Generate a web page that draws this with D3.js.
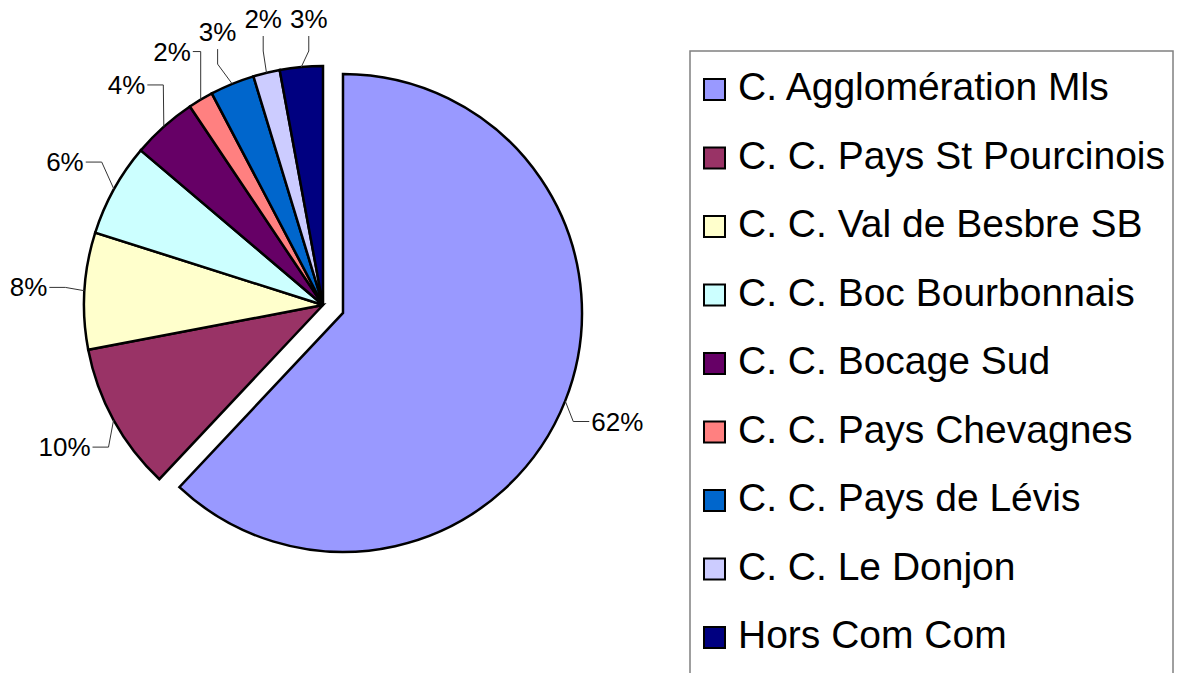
<!DOCTYPE html>
<html>
<head>
<meta charset="utf-8">
<script src="https://cdn.jsdelivr.net/npm/d3@7"></script>
<style>
  body { margin: 0; background: #fff; }
  text { font-family: "Liberation Sans", Arial, sans-serif; }
</style>
</head>
<body>
<div class="visHolder"></div>
<script>
const width = 1178;
const height = 673;

// share of each group, in percent, clockwise from 12 o'clock
const groups = [
    "C. Agglomération Mls",
    "C. C. Pays St Pourcinois",
    "C. C. Val de Besbre SB",
    "C. C. Boc Bourbonnais",
    "C. C. Bocage Sud",
    "C. C. Pays Chevagnes",
    "C. C. Pays de Lévis",
    "C. C. Le Donjon",
    "Hors Com Com"
];
const shares = [62.0, 10.0, 7.9, 6.3, 4.4, 1.7, 3.0, 1.8, 2.9];
const colors = [
    "#9999FF", "#993366", "#FFFFCC", "#CCFFFF", "#660066",
    "#FF8080", "#0066CC", "#CCCCFF", "#000080"
];

const cx = 323;
const cy = 305;
const radius = 239;
const explode = 21.5;
const labelRadius = 295;
const labelSize = 26;

let svg = d3
    .select(".visHolder")
    .append("svg")
    .attr("width", width)
    .attr("height", height);

svg.append("rect")
    .attr("width", width)
    .attr("height", height)
    .attr("fill", "#fff");

const total = d3.sum(shares);
const pie = d3.pie().sort(null).value((d) => d)(shares);
const arc = d3.arc().innerRadius(0).outerRadius(radius);

// only the first slice is pulled out
const offsetOf = (d, i) => {
    if (i !== 0) return [0, 0];
    const a = (d.startAngle + d.endAngle) / 2;
    return [Math.sin(a) * explode, -Math.cos(a) * explode];
};

const pieG = svg.append("g").attr("transform", `translate(${cx}, ${cy})`);

pieG.selectAll("path")
    .data(pie)
    .enter()
    .append("path")
    .attr("d", arc)
    .attr("transform", (d, i) => {
        const o = offsetOf(d, i);
        return `translate(${o[0]}, ${o[1]})`;
    })
    .attr("fill", (d, i) => colors[i])
    .attr("stroke", "#000")
    .attr("stroke-width", 2.5)
    .attr("stroke-linejoin", "miter");

// labels with leader lines
const labelG = svg.append("g").attr("transform", `translate(${cx}, ${cy})`);

const labels = pie.map((d, i) => {
    const a = (d.startAngle + d.endAngle) / 2;
    const o = offsetOf(d, i);
    return {
        txt: Math.round((d.value / total) * 100) + "%",
        x: o[0] + Math.sin(a) * labelRadius,
        y: o[1] - Math.cos(a) * labelRadius,
        ax: o[0] + Math.sin(a) * radius,
        ay: o[1] - Math.cos(a) * radius
    };
});

labels.forEach((l) => {
    l.node = labelG.append("text")
        .attr("text-anchor", "middle")
        .attr("dominant-baseline", "central")
        .attr("font-size", labelSize)
        .attr("fill", "#000")
        .text(l.txt);
    l.w = l.node.node().getComputedTextLength() / 2;
    // keep inside the top edge
    l.y = Math.max(l.y, -cy + labelSize / 2 + 6);
});

// spread the crowded labels across the top, in slice order
for (let i = 1; i < labels.length; i++) {
    const p = labels[i - 1];
    const l = labels[i];
    if (l.y < -200 && Math.abs(l.y - p.y) < 20 && l.x > p.x) {
        l.x = Math.max(l.x, p.x + p.w + l.w + 8);
    }
}

labels.forEach((l) => {
    l.node.attr("x", l.x).attr("y", l.y);
    let pts;
    if (l.y < 0 && Math.abs(l.x - l.ax) < l.w + 4 && Math.abs(l.x) < Math.abs(l.y) * 0.6) {
        // vertical elbow below the text
        const by = l.y + labelSize / 2 + 4;
        pts = [[l.x, by], [l.x, by + 15], [l.ax, l.ay]];
    } else {
        const side = l.ax < l.x ? -1 : 1;
        const sx = l.x + side * (l.w + 2);
        const ex = side < 0 ? Math.max(sx - 16, l.ax) : Math.min(sx + 16, l.ax);
        pts = [[sx, l.y], [ex, l.y], [l.ax, l.ay]];
    }
    labelG.append("path")
        .attr("d", d3.line()(pts))
        .attr("fill", "none")
        .attr("stroke", "#333")
        .attr("stroke-width", 1);
});

// legend
const legend = svg.append("g");
legend.append("rect")
    .attr("x", 690)
    .attr("y", 51)
    .attr("width", 483)
    .attr("height", 700)
    .attr("fill", "#fff")
    .attr("stroke", "#808080")
    .attr("stroke-width", 1.5);

const rowY = d3.scalePoint().domain(groups).range([100, 648]);

const rows = legend.selectAll("g.item")
    .data(groups)
    .enter()
    .append("g")
    .attr("class", "item")
    .attr("transform", (d) => `translate(0, ${rowY(d)})`);

rows.append("rect")
    .attr("x", 704)
    .attr("y", -21)
    .attr("width", 21)
    .attr("height", 21)
    .attr("fill", (d, i) => colors[i])
    .attr("stroke", "#000")
    .attr("stroke-width", 2);

rows.append("text")
    .attr("x", 738)
    .attr("y", 0)
    .attr("font-size", 39)
    .attr("fill", "#000")
    .text((d) => d);
</script>
</body>
</html>
